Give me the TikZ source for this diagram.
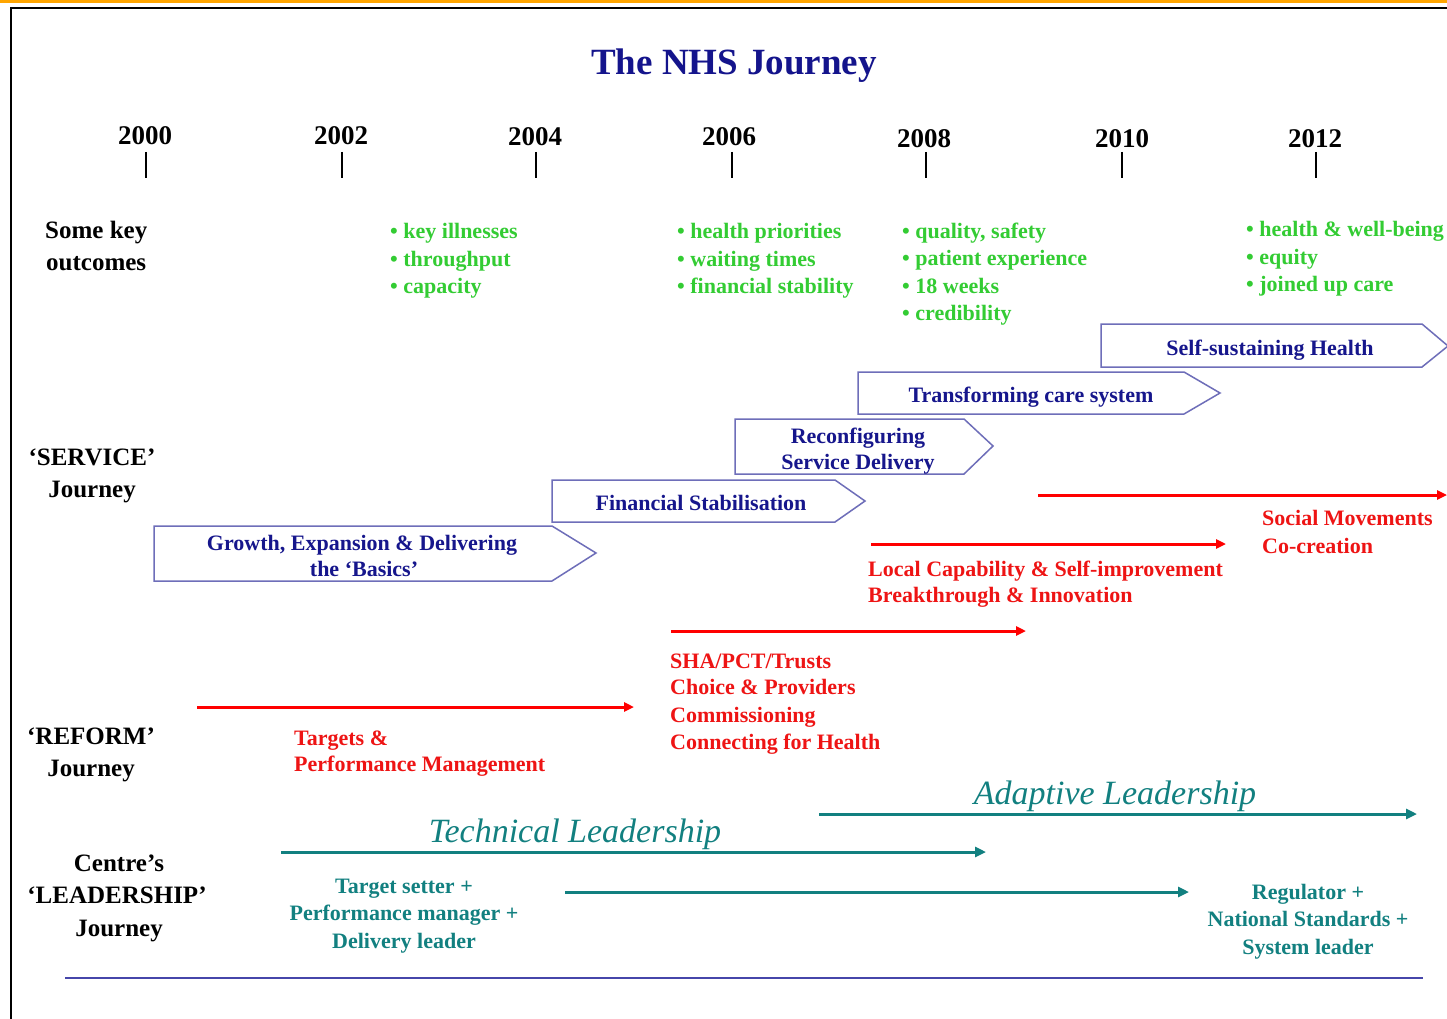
\documentclass[tikz,border=0pt]{standalone}
\usepackage{fontspec}
\setmainfont{Liberation Serif}
\usetikzlibrary{arrows.meta}
\definecolor{titleblue}{RGB}{20,20,140}
\definecolor{boxline}{RGB}{110,110,185}
\definecolor{boxtext}{RGB}{22,22,140}
\definecolor{okgreen}{RGB}{51,204,51}
\definecolor{redline}{RGB}{255,0,0}
\definecolor{redtext}{RGB}{238,20,20}
\definecolor{tealc}{RGB}{18,128,128}
\definecolor{bottomblue}{RGB}{70,70,170}
\definecolor{bandorange}{RGB}{255,165,0}
\tikzset{
  base/.style={inner sep=0pt, text height=10pt, text depth=0.2pt},
  titlelbl/.style={base, yshift=-8pt, font=\fontsize{37}{40}\selectfont\bfseries, text=titleblue},
  yearlbl/.style={base, yshift=-5pt, font=\fontsize{27}{30}\selectfont\bfseries, text=black},
  rowlbl/.style={base, yshift=-4.5pt, font=\fontsize{25}{30}\selectfont\bfseries, text=black},
  outcome/.style={base, yshift=-3.5pt, anchor=west, font=\fontsize{22}{26}\selectfont\bfseries, text=okgreen},
  stagebox/.style={draw=boxline, line width=1.5pt, fill=white},
  stagetxt/.style={base, yshift=-4pt, font=\fontsize{22}{26}\selectfont\bfseries, text=boxtext},
  redarrow/.style={draw=redline, line width=3pt, -{Triangle[length=10pt,width=9pt]}},
  redlbl/.style={base, yshift=-4pt, anchor=west, font=\fontsize{22}{26}\selectfont\bfseries, text=redtext},
  tealarrow/.style={draw=tealc, line width=3pt, -{Triangle[length=11pt,width=10pt]}},
  teallbl/.style={base, yshift=-3.5pt, font=\fontsize{22}{26}\selectfont\bfseries, text=tealc},
  leadlbl/.style={base, yshift=-7pt, font=\fontsize{34}{38}\selectfont\itshape, text=tealc},
  tick/.style={draw=black, line width=1.6pt}
}
\begin{document}
\begin{tikzpicture}[x=1pt,y=-1pt]
\useasboundingbox (0,0) rectangle (1447,1019);
\fill[white] (0,0) rectangle (1447,1019);
% top band and frame
\fill[bandorange] (0,0) rectangle (1447,3.5);
\draw[black, line width=2pt] (11,1019) -- (11,8.5) -- (1447,8.5);

% title
\node[titlelbl] (title) at (734,62) {The NHS Journey};

% years and ticks
\foreach \yr/\xx/\yy/\tx in {2000/145/135/146, 2002/341/135/342, 2004/535/136/536, 2006/729/136/732, 2008/924/138/926, 2010/1122/138/1122, 2012/1315/138/1316}{
  \node[yearlbl] (y\yr) at (\xx,\yy) {\yr};
  \coordinate (t\yr a) at (\tx,152);
  \coordinate (t\yr b) at (\tx,178);
  \draw[tick] (t\yr a) -- (t\yr b);
}

% row labels
\node[rowlbl, anchor=west] (sk1) at (45,229) {Some key};
\node[rowlbl, anchor=west] (sk2) at (46,261) {outcomes};
\node[rowlbl] (sv1) at (92,456) {‘SERVICE’};
\node[rowlbl] (sv2) at (92,488) {Journey};
\node[rowlbl] (rf1) at (91,735) {‘REFORM’};
\node[rowlbl] (rf2) at (91,767) {Journey};
\node[rowlbl] (ld1) at (119,862) {Centre’s};
\node[rowlbl] (ld2) at (117,894) {‘LEADERSHIP’};
\node[rowlbl] (ld3) at (119,927) {Journey};

% outcomes
\node[outcome] (o1a) at (390,230) {• key illnesses};
\node[outcome] (o1b) at (390,258) {• throughput};
\node[outcome] (o1c) at (390,285) {• capacity};
\node[outcome] (o2a) at (677,230) {• health priorities};
\node[outcome] (o2b) at (677,258) {• waiting times};
\node[outcome] (o2c) at (677,285) {• financial stability};
\node[outcome] (o3a) at (902,230) {• quality, safety};
\node[outcome] (o3b) at (902,257) {• patient experience};
\node[outcome] (o3c) at (902,285) {• 18 weeks};
\node[outcome] (o3d) at (902,312) {• credibility};
\node[outcome] (o4a) at (1246,228) {• health \& well-being};
\node[outcome] (o4b) at (1246,256) {• equity};
\node[outcome] (o4c) at (1246,283) {• joined up care};

% service stage arrows
\draw[stagebox] (1101,324) -- (1422,324) -- (1448,346) -- (1422,367) -- (1101,367) -- cycle;
\node[stagetxt] (s5) at (1270,347) {Self-sustaining Health};
\draw[stagebox] (858,372) -- (1184,372) -- (1220,393) -- (1184,414) -- (858,414) -- cycle;
\node[stagetxt] (s4) at (1031,394) {Transforming care system};
\draw[stagebox] (735,419) -- (964,419) -- (993,446) -- (964,474) -- (735,474) -- cycle;
\node[stagetxt] (s3a) at (858,435) {Reconfiguring};
\node[stagetxt] (s3b) at (858,461) {Service Delivery};
\draw[stagebox] (552,480) -- (835,480) -- (865,501) -- (835,522) -- (552,522) -- cycle;
\node[stagetxt] (s2) at (701,502) {Financial Stabilisation};
\draw[stagebox] (154,526) -- (552,526) -- (596,553) -- (552,581) -- (154,581) -- cycle;
\node[stagetxt] (s1a) at (362,542) {Growth, Expansion \& Delivering};
\node[stagetxt] (s1b) at (364,568) {the ‘Basics’};

% reform red arrows
\coordinate (r1s) at (1038,495); \coordinate (r1e) at (1447,495);
\draw[redarrow] (r1s) -- (r1e);
\node[redlbl] (r1a) at (1262,517) {Social Movements};
\node[redlbl] (r1b) at (1262,545) {Co-creation};

\coordinate (r2s) at (871,544); \coordinate (r2e) at (1226,544);
\draw[redarrow] (r2s) -- (r2e);
\node[redlbl] (r2a) at (868,568) {Local Capability \& Self-improvement};
\node[redlbl] (r2b) at (868,594) {Breakthrough \& Innovation};

\coordinate (r3s) at (671,631); \coordinate (r3e) at (1026,631);
\draw[redarrow] (r3s) -- (r3e);
\node[redlbl] (r3a) at (670,660) {SHA/PCT/Trusts};
\node[redlbl] (r3b) at (670,686) {Choice \& Providers};
\node[redlbl] (r3c) at (670,714) {Commissioning};
\node[redlbl] (r3d) at (670,741) {Connecting for Health};

\coordinate (r4s) at (197,707); \coordinate (r4e) at (634,707);
\draw[redarrow] (r4s) -- (r4e);
\node[redlbl] (r4a) at (294,737) {Targets \&};
\node[redlbl] (r4b) at (294,763) {Performance Management};

% leadership teal arrows
\node[leadlbl] (adapt) at (1115,793) {Adaptive Leadership};
\coordinate (l1s) at (819,814); \coordinate (l1e) at (1417,814);
\draw[tealarrow] (l1s) -- (l1e);
\node[leadlbl] (tech) at (575,831) {Technical Leadership};
\coordinate (l2s) at (281,852); \coordinate (l2e) at (986,852);
\draw[tealarrow] (l2s) -- (l2e);
\coordinate (l3s) at (565,892); \coordinate (l3e) at (1189,892);
\draw[tealarrow] (l3s) -- (l3e);

\node[teallbl] (ta) at (404,885) {Target setter +};
\node[teallbl] (tb) at (404,912) {Performance manager +};
\node[teallbl] (tc) at (404,940) {Delivery leader};
\node[teallbl] (ra) at (1308,891) {Regulator +};
\node[teallbl] (rb) at (1308,918) {National Standards +};
\node[teallbl] (rc) at (1308,946) {System leader};

% bottom rule
\coordinate (b1) at (65,978); \coordinate (b2) at (1423,978);
\draw[bottomblue, line width=1.8pt] (b1) -- (b2);
\end{tikzpicture}
\end{document}
